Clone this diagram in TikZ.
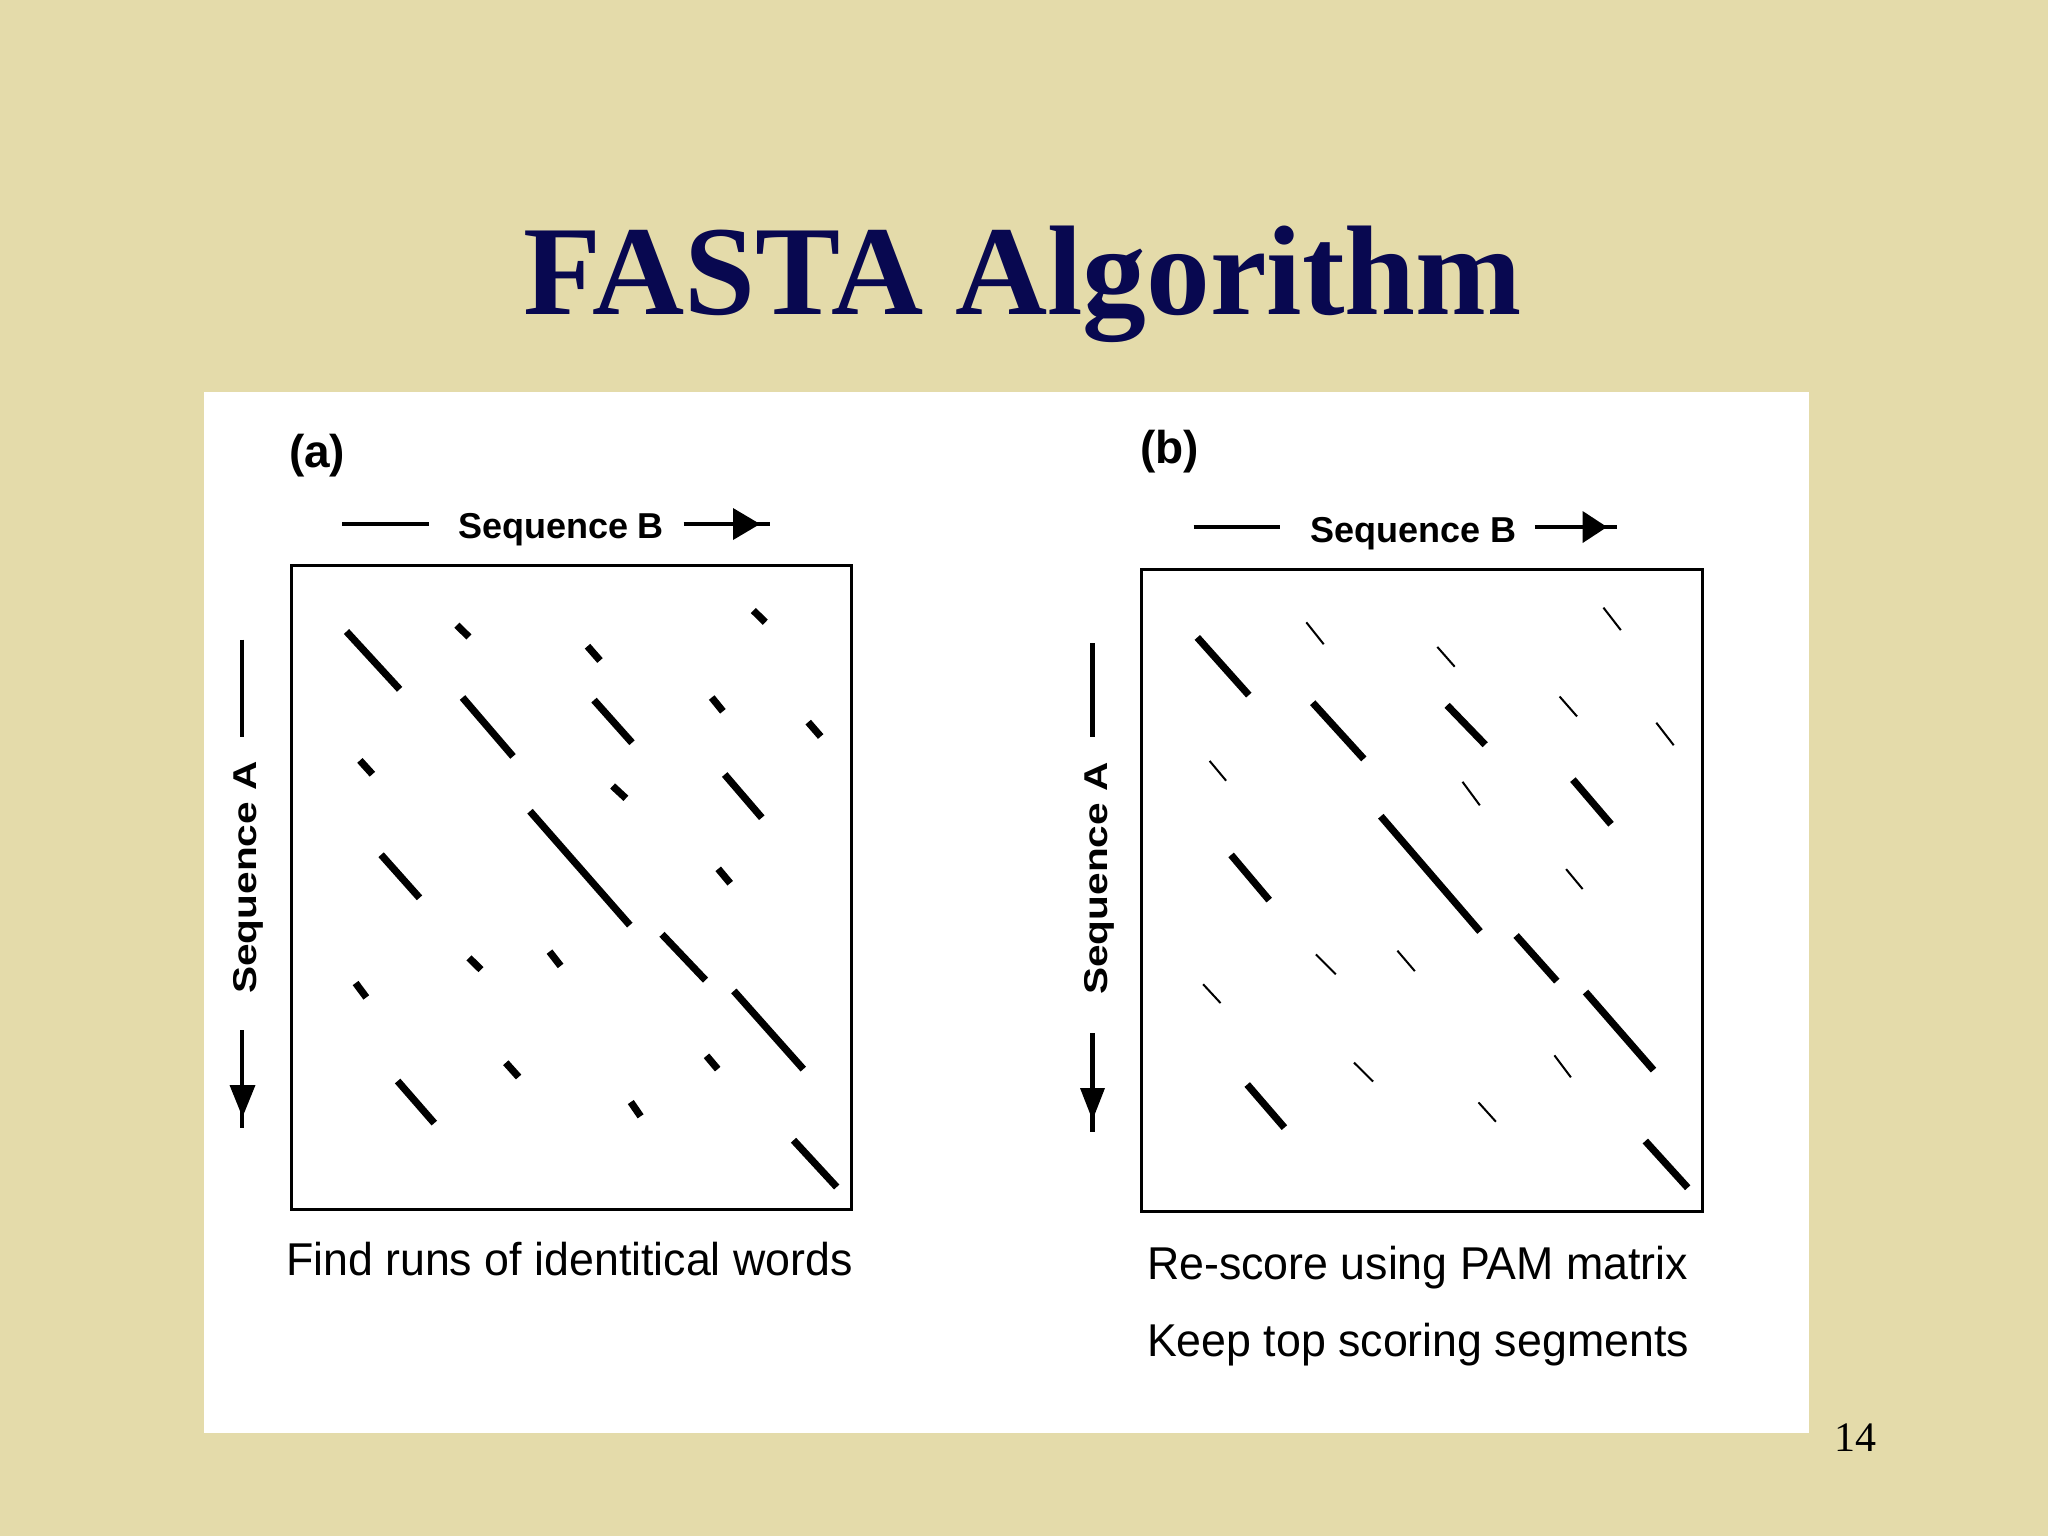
\documentclass[tikz,border=0pt]{standalone}
\usepackage{fontspec}
\setmainfont{Liberation Serif}
\newfontfamily\capfont[FakeStretch=0.972]{Liberation Sans}
\newfontfamily\labfont{Liberation Sans}
\newfontfamily\seqAfont[FakeStretch=1.23]{Liberation Sans}
\definecolor{bg}{RGB}{228,219,170}
\definecolor{navy}{RGB}{8,8,80}
\tikzset{
  thickseg/.style={line width=0.72mm},
  thinseg/.style={line width=0.2mm},
  frame/.style={line width=0.3mm},
  axisline/.style={line width=0.45mm},
  lbl/.style={inner sep=0pt, outer sep=0pt},
}
\begin{document}
\begin{tikzpicture}[x=0.1mm,y=-0.1mm]
\fill[bg] (0,0) rectangle (2048,1536);
\useasboundingbox (0,0) rectangle (2048,1536);
\fill[white] (204,392) rectangle (1809,1433);

% title
\node[lbl, anchor=base, text=navy, font=\fontsize{36.3pt}{40pt}\selectfont\bfseries] (title) at (1023,314) {FASTA Algorithm};
% page number
\node[lbl, anchor=base west, font=\fontsize{11.95pt}{14pt}\selectfont] (pnum) at (1834,1451) {14};

% ---------- panel (a) ----------
\draw[frame] (291.5,565.5) rectangle (851.5,1209.5);
\node[lbl, anchor=base west, font=\labfont\fontsize{13.09pt}{15pt}\selectfont\bfseries] (la) at (289,467) {(a)};
\node[lbl, anchor=base west, font=\labfont\fontsize{10.24pt}{12pt}\selectfont\bfseries] (sba) at (458,538.5) {Sequence B};
\draw[axisline] (342,524) -- (429,524);
\draw[axisline] (683.5,524) -- (770,524);
\fill (733,508) -- (733,540) -- (760,524) -- cycle;
\node[lbl, anchor=base, rotate=90, font=\seqAfont\fontsize{9.39pt}{11pt}\selectfont\bfseries] (saa) at (256,877.5) {Sequence A};
\draw[axisline] (242,639.5) -- (242,737);
\draw[axisline] (242,1030) -- (242,1128);
\fill (229.5,1085) -- (255.5,1085) -- (242.5,1117) -- cycle;
\node[lbl, anchor=base west, font=\capfont\fontsize{13.09pt}{15pt}\selectfont] (capa) at (286,1275) {Find runs of identitical words};

\foreach \xa/\ya/\xb/\yb in {
 344.5/629.5/401.6/691.3, 454.9/623.2/470.9/638.9, 751.3/608.5/767.3/624.2,
 585.5/644.2/602.0/662.5, 460.5/695.5/515.0/758.4, 592.0/698.1/634.0/744.7,
 709.7/695.5/724.9/713.3, 806.2/720.1/822.7/738.5, 357.9/758.4/374.4/776.2,
 610.6/784.0/627.9/800.3, 722.7/772.5/763.8/819.7, 528.0/809.2/631.8/927.1,
 379.1/852.7/421.5/899.8, 716.2/866.8/732.2/885.2, 660.0/932.3/707.5/982.1,
 467.0/955.9/483.0/971.6, 547.5/949.6/562.6/967.9, 353.6/981.0/368.3/999.4,
 731.8/988.9/805.3/1071.1, 704.5/1053.8/719.7/1071.1, 503.8/1060.7/520.6/1079.0,
 395.6/1079.0/436.3/1125.1, 628.8/1100.0/642.6/1118.3, 791.5/1138.2/838.7/1189.0}
 \draw[thickseg] (\xa+2,\ya+2) -- (\xb-2,\yb-2);

% ---------- panel (b) ----------
\draw[frame] (1141.5,569.5) rectangle (1702.5,1211.5);
\node[lbl, anchor=base west, font=\labfont\fontsize{13.09pt}{15pt}\selectfont\bfseries] (lb) at (1140,463.5) {(b)};
\node[lbl, anchor=base west, font=\labfont\fontsize{10.24pt}{12pt}\selectfont\bfseries] (sbb) at (1310,542) {Sequence B};
\draw[axisline] (1193.6,527) -- (1280.3,527);
\draw[axisline] (1534.8,527) -- (1617,527);
\fill (1582.6,511) -- (1582.6,543) -- (1607,527) -- cycle;
\node[lbl, anchor=base, rotate=90, font=\seqAfont\fontsize{9.39pt}{11pt}\selectfont\bfseries] (sab) at (1107,878.5) {Sequence A};
\draw[axisline] (1092.5,643) -- (1092.5,737);
\draw[axisline] (1092.5,1033) -- (1092.5,1132);
\fill (1080,1088) -- (1105,1088) -- (1092.5,1120) -- cycle;
\node[lbl, anchor=base west, font=\capfont\fontsize{13.09pt}{15pt}\selectfont] (capb1) at (1147,1279.3) {Re-score using PAM matrix};
\node[lbl, anchor=base west, font=\capfont\fontsize{13.09pt}{15pt}\selectfont] (capb2) at (1147,1356) {Keep top scoring segments};

\foreach \xa/\ya/\xb/\yb in {
 1195.3/635.4/1250.8/697.1, 1310.7/700.7/1365.8/760.9, 1445.1/703.3/1487.2/746.7,
 1570.9/777.6/1613.0/826.2, 1378.8/814.2/1482.0/933.5, 1229.1/852.9/1271.2/902.1,
 1514.1/933.5/1558.8/983.1, 1583.5/990.0/1655.5/1072.1, 1245.2/1082.5/1286.4/1129.6,
 1643.3/1139.0/1689.7/1189.7}
 \draw[thickseg] (\xa+2,\ya+2) -- (\xb-2,\yb-2);

\foreach \xa/\ya/\xb/\yb in {
 1306.3/622.3/1323.7/644.2, 1603.4/607.6/1620.8/630.1, 1437.3/646.9/1454.7/666.7,
 1559.6/696.5/1577.0/716.4, 1656.3/722.7/1673.7/745.2, 1209.6/760.9/1226.1/780.7,
 1462.5/781.8/1479.8/805.3, 1566.1/869.1/1582.6/889.0, 1315.9/954.4/1335.8/974.3,
 1397.4/950.7/1414.8/971.1, 1203.1/984.2/1220.5/1003.0, 1554.4/1055.3/1570.9/1077.3,
 1354.0/1062.6/1373.1/1081.5, 1478.5/1102.4/1495.9/1121.7}
 \draw[thinseg] (\xa,\ya) -- (\xb,\yb);
\end{tikzpicture}
\end{document}
